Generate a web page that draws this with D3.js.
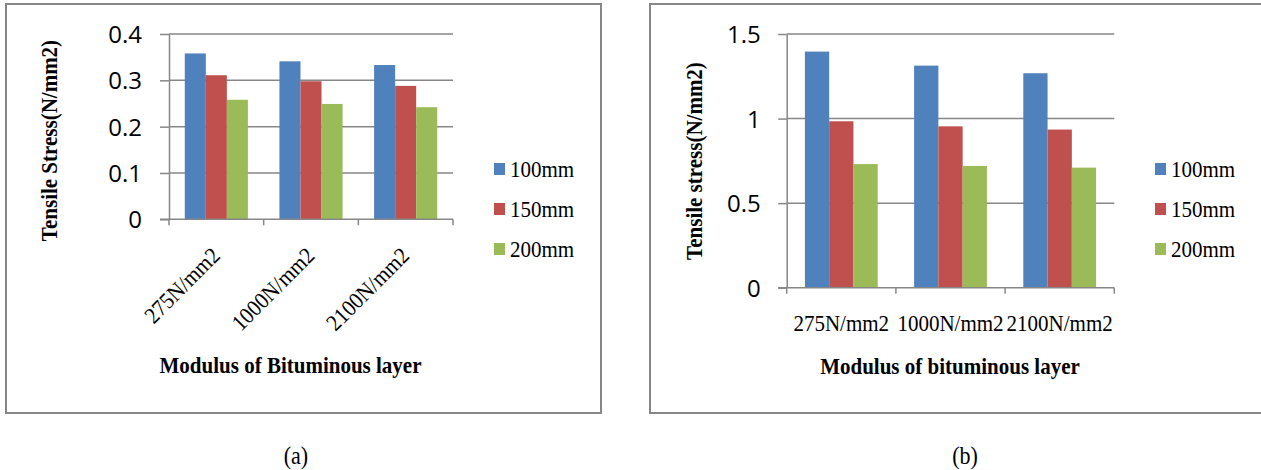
<!DOCTYPE html>
<html>
<head>
<meta charset="utf-8">
<script src="https://cdn.jsdelivr.net/npm/d3@7"></script>
<style>
  html, body { margin: 0; padding: 0; background: #fff; }
  svg { display: block; }
</style>
</head>
<body>
<svg id="chart" width="1261" height="470"></svg>
<script>
// ---------------- DATA ----------------
const categories = ["275N/mm2", "1000N/mm2", "2100N/mm2"];
const seriesNames = ["100mm", "150mm", "200mm"];
const seriesColors = ["#4F81BD", "#C0504D", "#9BBB59"];

// Panel (a): Tensile Stress (N/mm2)
const valuesA_100 = [0.358, 0.341, 0.333];
const valuesA_150 = [0.311, 0.298, 0.288];
const valuesA_200 = [0.258, 0.249, 0.242];
const yTicksA = [0, 0.1, 0.2, 0.3, 0.4];

// Panel (b): Tensile stress (N/mm2)
const valuesB_100 = [1.396, 1.313, 1.268];
const valuesB_150 = [0.984, 0.954, 0.935];
const valuesB_200 = [0.731, 0.720, 0.710];
const yTicksB = [0, 0.5, 1, 1.5];

const yTitleA = "Tensile Stress(N/mm2)";
const yTitleB = "Tensile stress(N/mm2)";
const xTitleA = "Modulus of Bituminous layer";
const xTitleB = "Modulus of bituminous layer";
const captionA = "(a)";
const captionB = "(b)";

// ---------------- LAYOUT ----------------
const svg = d3.select("#chart");
const GRAY = "#878787";
const SERIF = "'Liberation Serif','Times New Roman',serif";
const SANS = "'Open Sans','Liberation Sans',sans-serif";

// draw text taller than its natural width (condensed look of the reference)
function condense(sel, widthSize, drawSize) {
  sel.each(function () {
    const t = d3.select(this);
    t.attr("font-size", widthSize).style("font-size", widthSize + "px");
    const L = this.getComputedTextLength();
    t.attr("font-size", drawSize).style("font-size", drawSize + "px")
      .attr("textLength", L).attr("lengthAdjust", "spacingAndGlyphs");
  });
}

function panel(cfg) {
  const g = svg.append("g");
  g.append("rect")
    .attr("x", cfg.box[0]).attr("y", cfg.box[1])
    .attr("width", cfg.box[2]).attr("height", cfg.box[3])
    .attr("fill", "none").attr("stroke", GRAY).attr("stroke-width", 2);

  const y = d3.scaleLinear().domain([0, cfg.yMax]).range([cfg.y0, cfg.y1]);
  const x = d3.scaleBand().domain(categories).range([cfg.x0, cfg.x1]).padding(0);
  const bw = x.bandwidth();
  const xs = d3.scaleBand().domain(seriesNames).range([bw / 6, bw * 5 / 6]).padding(0);

  // gridlines
  g.append("g").selectAll("line").data(cfg.ticks.filter(d => d > 0)).join("line")
    .attr("x1", cfg.x0).attr("x2", cfg.x1)
    .attr("y1", d => y(d)).attr("y2", d => y(d))
    .attr("stroke", GRAY).attr("stroke-width", 1.5);

  // bars
  const rows = categories.map((c, i) => ({ c, vals: cfg.series.map(s => s[i]) }));
  const grp = g.append("g").selectAll("g").data(rows).join("g")
    .attr("transform", d => `translate(${x(d.c)},0)`);
  grp.selectAll("rect").data(d => d.vals.map((v, j) => ({ v, j }))).join("rect")
    .attr("x", d => xs(seriesNames[d.j]))
    .attr("width", xs.bandwidth())
    .attr("y", d => y(d.v))
    .attr("height", d => y(0) - y(d.v))
    .attr("fill", d => seriesColors[d.j]);

  // y axis
  const yAxis = d3.axisLeft(y).tickValues(cfg.ticks).tickFormat(d => String(d))
    .tickSize(cfg.tickLen).tickPadding(cfg.tickPad).tickSizeOuter(0);
  const ya = g.append("g").attr("transform", `translate(${cfg.x0},0)`).call(yAxis)
    .attr("font-size", cfg.tickFont).attr("font-family", SANS);
  ya.selectAll("path").attr("stroke", GRAY).attr("stroke-width", 1.5);
  ya.selectAll("line").attr("stroke", GRAY).attr("stroke-width", 1.5);
  ya.selectAll("text").attr("fill", "#000")
    .attr("font-size", cfg.tickFont).style("font-size", cfg.tickFont + "px")
    .style("font-family", SANS).attr("dy", "0.36em");

  // x axis
  const xa = g.append("g").attr("transform", `translate(0,${cfg.y0})`);
  xa.append("line").attr("x1", cfg.x0 - cfg.tickLen).attr("x2", cfg.x1)
    .attr("y1", 0).attr("y2", 0).attr("stroke", GRAY).attr("stroke-width", 1.5);
  const bounds = categories.map(c => x(c)).concat([cfg.x1]);
  xa.selectAll("line.tk").data(bounds).join("line").attr("class", "tk")
    .attr("x1", d => d).attr("x2", d => d).attr("y1", 0).attr("y2", 6)
    .attr("stroke", GRAY).attr("stroke-width", 1.5);

  // category labels
  const lab = g.append("g").selectAll("text").data(categories).join("text")
    .text(d => d)
    .style("font-family", SERIF).attr("fill", "#000");
  if (cfg.rotate) {
    lab.attr("text-anchor", "end")
      .attr("transform", d => `translate(${x(d) + bw / 2 + cfg.rotDx},${cfg.rotY}) rotate(-45)`);
  } else {
    lab.attr("text-anchor", "middle")
      .attr("x", d => x(d) + bw / 2).attr("y", cfg.labY);
  }
  condense(lab, 21, 23);

  // axis titles
  const xt = g.append("text").text(cfg.xTitle)
    .attr("x", cfg.xTitlePos[0]).attr("y", cfg.xTitlePos[1])
    .attr("text-anchor", "middle").style("font-family", SERIF)
    .style("font-weight", "bold");
  condense(xt, 21, 23);
  const yt = g.append("text").text(cfg.yTitle)
    .attr("transform", `translate(${cfg.yTitlePos[0]},${cfg.yTitlePos[1]}) rotate(-90)`)
    .attr("text-anchor", "middle").style("font-family", SERIF)
    .style("font-weight", "bold");
  condense(yt, 21, 23);

  // legend
  const lg = g.append("g").selectAll("g").data(seriesNames).join("g")
    .attr("transform", (d, i) => `translate(${cfg.legX},${cfg.legY + i * 40})`);
  lg.append("rect").attr("x", 0).attr("y", -6).attr("width", 11).attr("height", 12)
    .attr("fill", (d, i) => seriesColors[i]);
  const lt = lg.append("text").text(d => d).attr("x", 16).attr("y", 8)
    .style("font-family", SERIF).attr("fill", "#000");
  condense(lt, 21, 23);

  // caption
  const cp = svg.append("text").text(cfg.caption)
    .attr("x", cfg.captionX).attr("y", 464).attr("text-anchor", "middle")
    .style("font-family", SERIF);
  condense(cp, 22, 25);
}

panel({
  box: [6, 4, 595, 409],
  yMax: 0.4, ticks: yTicksA, y0: 219.3, y1: 34,
  x0: 169, x1: 453,
  series: [valuesA_100, valuesA_150, valuesA_200],
  tickLen: 9, tickPad: 18, tickFont: 24,
  rotate: true, rotDx: 5, rotY: 257,
  xTitle: xTitleA, xTitlePos: [290.5, 373],
  yTitle: yTitleA, yTitlePos: [57, 140.5],
  legX: 494, legY: 169,
  caption: captionA, captionX: 296
});

panel({
  box: [650, 4, 640, 409],
  yMax: 1.5, ticks: yTicksB, y0: 287.7, y1: 34,
  x0: 786.7, x1: 1114.3,
  series: [valuesB_100, valuesB_150, valuesB_200],
  tickLen: 8.5, tickPad: 17.5, tickFont: 24,
  rotate: false, labY: 331,
  xTitle: xTitleB, xTitlePos: [950, 374],
  yTitle: yTitleB, yTitlePos: [702, 161],
  legX: 1155, legY: 169,
  caption: captionB, captionX: 965
});
</script>
</body>
</html>
